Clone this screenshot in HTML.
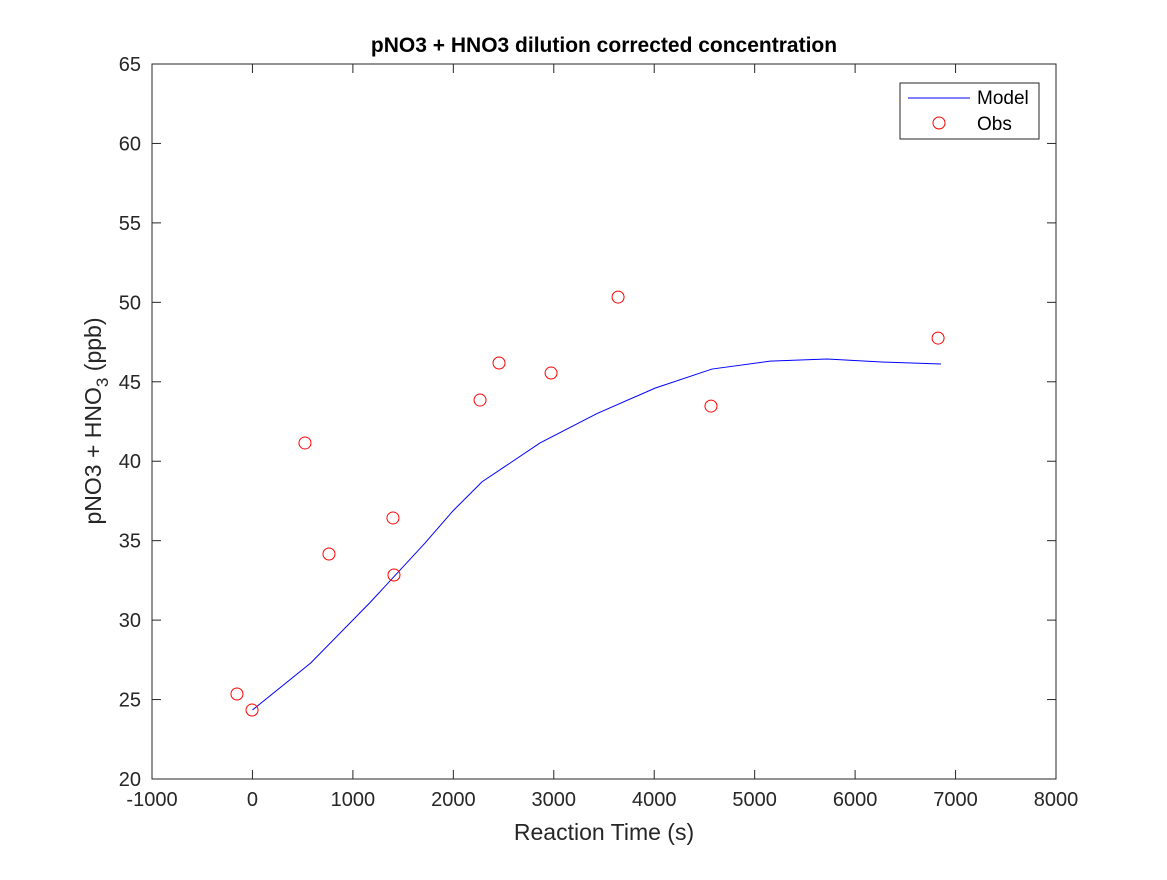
<!DOCTYPE html>
<html><head><meta charset="utf-8"><style>
body{margin:0;background:#fff;}
svg{font-family:"Liberation Sans",sans-serif;}
</style></head><body>
<svg width="1167" height="875">
<rect width="1167" height="875" fill="#fff"/>
<g id="plot"></g>
</svg>
<script>
const xTicks=[-1000,0,1000,2000,3000,4000,5000,6000,7000,8000];
const yTicks=[20,25,30,35,40,45,50,55,60,65];
const modelX=[0,580,1170,1718,2000,2285,2863,3430,4008,4575,5153,5720,6288,6855];
const modelY=[24.34,27.3,31.1,34.85,36.9,38.7,41.15,43.0,44.6,45.8,46.3,46.43,46.24,46.12];
const obsX=[-154,-4,523,762,1399,1409,2266,2455,2973,3640,4565,6826];
const obsY=[25.35,24.34,41.15,34.16,36.43,32.84,43.85,46.18,45.55,50.33,43.47,47.75];
const L=152,R=1056,T=64,B=779;
const sx=v=>L+(v+1000)/9000*(R-L);
const sy=v=>B-(v-20)/45*(B-T);
const ns="http://www.w3.org/2000/svg";
const g=document.getElementById('plot');
function mk(t,a,txt){const e=document.createElementNS(ns,t);for(const k in a)e.setAttribute(k,a[k]);if(txt!==undefined)e.textContent=txt;g.appendChild(e);return e;}
let e=mk('rect',{x:L,y:T,width:R-L,height:B-T,fill:'#fff',stroke:'#262626','stroke-width':1});


xTicks.forEach(v=>{const x=sx(v);
 let t=mk('line',{x1:x,x2:x,y1:B,y2:B-9,stroke:'#262626'});
 
 
 t=mk('line',{x1:x,x2:x,y1:T,y2:T+9,stroke:'#262626'});
 
 
 const l=mk('text',{x:x,y:B+27,'text-anchor':'middle','font-size':20,fill:'#262626'},String(v));
 
 
});
yTicks.forEach(v=>{const y=sy(v);
 let t=mk('line',{x1:L,x2:L+9,y1:y,y2:y,stroke:'#262626'});
 
 
 t=mk('line',{x1:R,x2:R-9,y1:y,y2:y,stroke:'#262626'});
 
 
 const l=mk('text',{x:L-11,y:y+7,'text-anchor':'end','font-size':20,fill:'#262626'},String(v));
 
 
});
const line=mk('polyline',{points:modelX.map((v,i)=>sx(v)+','+sy(modelY[i])).join(' '),fill:'none',stroke:'#0000ff','stroke-width':1});


obsX.forEach((v,i)=>{const c=mk('circle',{cx:sx(v),cy:sy(obsY[i]),r:6,fill:'none',stroke:'#ff0000','stroke-width':1});
 
 });
let t=mk('text',{x:604,y:52,'text-anchor':'middle','font-size':21,'font-weight':'bold',fill:'#000'},'pNO3 + HNO3 dilution corrected concentration');


t=mk('text',{x:604,y:840,'text-anchor':'middle','font-size':23,fill:'#262626'},'Reaction Time (s)');


t=mk('text',{x:0,y:0,'text-anchor':'middle','font-size':23,fill:'#262626',transform:'translate(101,421) rotate(-90)'});
t.innerHTML='pNO3 + HNO<tspan font-size="17" dy="7">3</tspan><tspan dy="-7"> (ppb)</tspan>';


const lg=mk('rect',{x:900,y:83,width:139,height:56,fill:'#fff',stroke:'#262626'});


t=mk('line',{x1:908,x2:970,y1:98,y2:98,stroke:'#0000ff'});


t=mk('text',{x:977,y:104,'font-size':19,fill:'#000'},'Model');


t=mk('circle',{cx:939,cy:123,r:6,fill:'none',stroke:'#ff0000'});


t=mk('text',{x:977,y:130,'font-size':19,fill:'#000'},'Obs');


</script>
</body></html>
